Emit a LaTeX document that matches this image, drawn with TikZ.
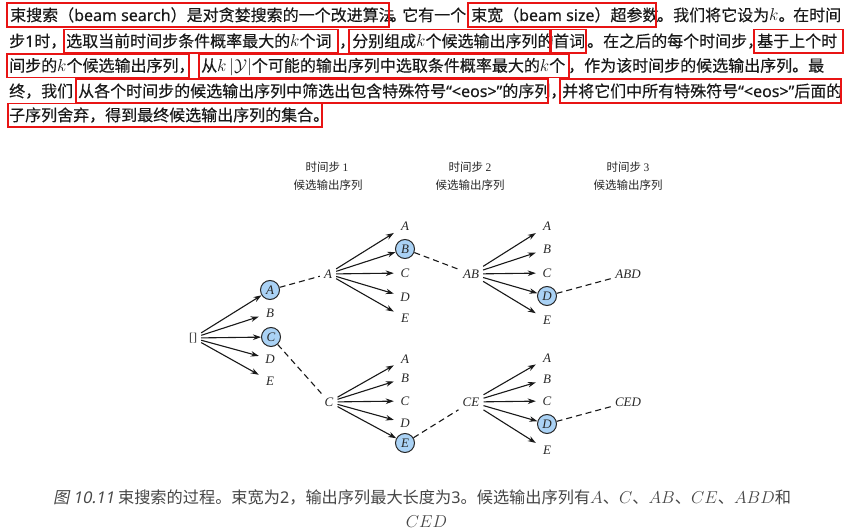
\documentclass[tikz,border=0pt]{standalone}
\usepackage{fontspec}
\setmainfont[FakeBold=0.3]{Noto Sans CJK SC}
\newfontfamily\lat[FakeBold=0.3]{Noto Sans}
\newfontfamily\latc{Noto Sans}
\newfontfamily\latsl[FakeSlant=0.2]{Noto Sans}
\newfontfamily\tnr{Liberation Serif}
\newfontfamily\capf{Noto Sans CJK SC}
\newfontfamily\capsl[FakeSlant=0.2]{Noto Sans CJK SC}
\usetikzlibrary{arrows.meta}
\definecolor{txt}{RGB}{25,25,25}
\definecolor{rbox}{RGB}{232,20,20}
\definecolor{cfill}{RGB}{170,210,245}
\definecolor{capc}{RGB}{70,70,70}
\definecolor{dg}{RGB}{40,40,40}
\newcommand\mk[1]{{\fontsize{18bp}{20bp}\selectfont$#1$}}
\newcommand\cmm[1]{{\fontsize{18bp}{20bp}\selectfont$#1$}}
\begin{document}
\begin{tikzpicture}[x=1bp,y=-1bp,
  seg/.style={anchor=base west, inner sep=0pt, text=txt, font=\fontsize{16bp}{18bp}\selectfont},
  hl/.style={draw=rbox, line width=1.4bp},
  tok/.style={inner sep=0pt, minimum width=22bp, minimum height=14bp, text=dg, font=\tnr\itshape\fontsize{13bp}{15bp}\selectfont},
  seq/.style={inner xsep=4bp, inner ysep=4bp, text=dg, font=\tnr\itshape\fontsize{13bp}{15bp}\selectfont},
  sel/.style={circle, draw=black!85, line width=1bp, fill=cfill, minimum size=19bp, inner sep=0pt, text=dg, font=\tnr\itshape\fontsize{13bp}{15bp}\selectfont},
  arr/.style={-{Stealth[length=8bp,width=5.5bp]}, line width=1.1bp, black!90},
  dsh/.style={dash pattern=on 6bp off 4bp, line width=1.1bp, black!90},
  hdr/.style={inner sep=0pt, text=dg, font=\capf\fontsize{11.5bp}{14bp}\selectfont},
  capt/.style={anchor=base west, inner sep=0pt, text=capc, font=\capf\fontsize{16.2bp}{18bp}\selectfont}
]
\fill[white] (0,0) rectangle (853,532);
\useasboundingbox (0,0) rectangle (853,532);

% ---------- paragraph ----------
% line 1
\node[seg] (p1a) at (10,21) {束搜索（{\lat beam search}）是对贪婪搜索的一个改进算法};
\node[seg] (p1b) at (390,21) {。};
\node[seg] (p1c) at (402,21) {它有一个};
\node[seg] (p1d) at (471,21) {束宽（{\lat beam size}）超参数};
\node[seg] (p1e) at (657,21) {。我们将它设为\mk{k}。};
\node[seg] (p1f) at (793,21) {在时间};
% line 2
\node[seg] (p2a) at (9,47) {步{\lat 1}时，};
\node[seg] (p2b) at (66,47) {选取当前时间步条件概率最大的\mk{k}个词};
\node[seg] (p2c) at (339,47) {，};
\node[seg] (p2d) at (352,47) {分别组成\mk{k}个候选输出序列的};
\node[seg] (p2e) at (553,47) {首词};
\node[seg] (p2f) at (587,47) {。在之后的每个时间步，};
\node[seg] (p2g) at (757,47) {基于上个时};
% line 3
\node[seg] (p3a) at (9,71.5) {间步的\mk{k}个候选输出序列，};
\node[seg] (p3b) at (201,71.5) {从\mk{k\,|\mathcal{Y}|}个可能的输出序列中选取条件概率最大的\mk{k}个};
\node[seg] (p3c) at (568,71.5) {，作为该时间步的候选输出序列。最};
% line 4
\node[seg] (p4a) at (9,97) {终，我们};
\node[seg] (p4b) at (78,97) {从各个时间步的候选输出序列中筛选出包含特殊符号{\lat “<eos>”}的序列，};
\node[seg] (p4c) at (562,97) {并将它们中所有特殊符号{\lat “<eos>”}后面的};
% line 5
\node[seg] (p5a) at (9,121) {子序列舍弃，得到最终候选输出序列的集合。};

% red highlight boxes
\draw[hl] (7,3) rectangle (389,27);
\draw[hl] (468,3) rectangle (656,27);
\draw[hl] (64,29.5) rectangle (338,53);
\draw[hl] (349,29.5) rectangle (550,53);
\draw[hl] (551,29.5) rectangle (586,53);
\draw[hl] (754,29.5) rectangle (843,53);
\draw[hl] (7,54) rectangle (189,77.5);
\draw[hl] (199,54) rectangle (569,77.5);
\draw[hl] (76,79) rectangle (548,103);
\draw[hl] (560,79) rectangle (841,103);
\draw[hl] (8,103.5) rectangle (322,127);

% ---------- headers ----------
\node[hdr] (h1a) at (327,167) {时间步 {\tnr 1}};
\node[hdr] (h1b) at (328,185) {候选输出序列};
\node[hdr] (h2a) at (470,167) {时间步 {\tnr 2}};
\node[hdr] (h2b) at (470,185) {候选输出序列};
\node[hdr] (h3a) at (628,167) {时间步 {\tnr 3}};
\node[hdr] (h3b) at (628,185) {候选输出序列};

% ---------- tree ----------
\node[seq, font=\tnr\fontsize{12bp}{14bp}\selectfont] (root) at (193,338) {[]};
\node[sel] (a1) at (270,290) {A};
\node[tok] (b1) at (270,313) {B};
\node[sel] (c1) at (271,337) {C};
\node[tok] (d1) at (270,359) {D};
\node[tok] (e1) at (270,381) {E};
\foreach \n in {a1,b1,c1,d1,e1} \draw[arr] (root) -- (\n);

% branch A
\node[seq] (sA) at (328,274) {A};
\node[tok] (aA) at (405,226) {A};
\node[sel] (aB) at (405,249) {B};
\node[tok] (aC) at (405,273) {C};
\node[tok] (aD) at (405,297) {D};
\node[tok] (aE) at (405,318) {E};
\foreach \n in {aA,aB,aC,aD,aE} \draw[arr] (sA) -- (\n);
\draw[dsh] (a1) -- (sA);

% branch AB
\node[seq] (sAB) at (471,274) {AB};
\node[tok] (bA) at (547,226) {A};
\node[tok] (bB) at (547,249) {B};
\node[tok] (bC) at (547,273) {C};
\node[sel] (bD) at (547,296) {D};
\node[tok] (bE) at (547,320) {E};
\foreach \n in {bA,bB,bC,bD,bE} \draw[arr] (sAB) -- (\n);
\draw[dsh] (aB) -- (sAB);
\node[seq] (sABD) at (628,274) {ABD};
\draw[dsh] (bD) -- (sABD);

% branch C
\node[seq] (sC) at (329,402) {C};
\node[tok] (cA) at (405,359) {A};
\node[tok] (cB) at (405,378) {B};
\node[tok] (cC) at (405,401) {C};
\node[tok] (cD) at (405,423) {D};
\node[sel] (cE) at (405,443) {E};
\foreach \n in {cA,cB,cC,cD,cE} \draw[arr] (sC) -- (\n);
\draw[dsh] (c1) -- (sC);

% branch CE
\node[seq] (sCE) at (471,402) {CE};
\node[tok] (dA) at (547,358) {A};
\node[tok] (dB) at (547,379) {B};
\node[tok] (dC) at (547,401) {C};
\node[sel] (dD) at (547,424) {D};
\node[tok] (dE) at (547,450) {E};
\foreach \n in {dA,dB,dC,dD,dE} \draw[arr] (sCE) -- (\n);
\draw[dsh] (cE) -- (sCE);
\node[seq] (sCED) at (628,402) {CED};
\draw[dsh] (dD) -- (sCED);

% ---------- caption ----------
\node[capt] (cap1) at (53,503) {{\capsl 图} {\latsl 10.11} 束搜索的过程。束宽为{\latc 2}，输出序列最大长度为{\latc 3}。候选输出序列有\cmm{A}、\cmm{C}、\cmm{AB}、\cmm{CE}、\cmm{ABD}和};
\node[inner sep=0pt, text=capc] (cap2) at (426.5,522) {\cmm{CED}};
\end{tikzpicture}
\end{document}
